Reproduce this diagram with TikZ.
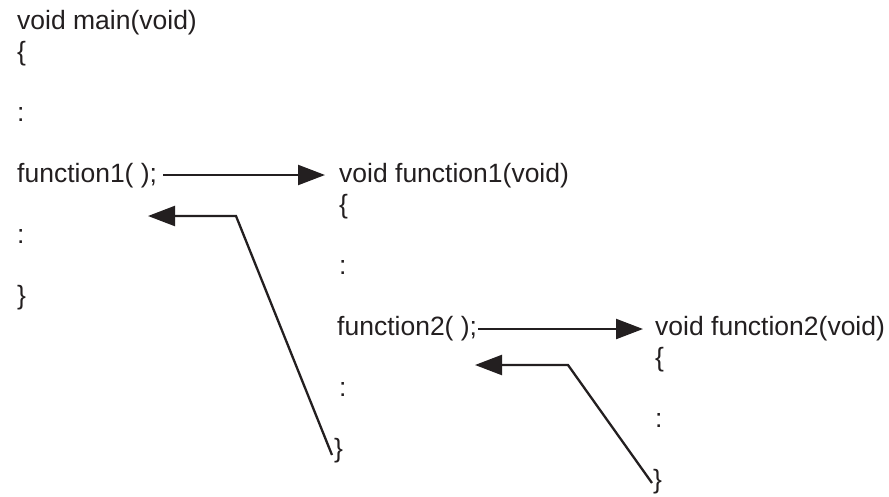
\documentclass[tikz,border=0pt]{standalone}
\usepackage{fontspec}
\setmainfont{Liberation Sans}
\usetikzlibrary{arrows.meta}
\definecolor{ink}{HTML}{231F20}
\tikzset{
  code/.style={anchor=base west, inner sep=0pt, text=ink, font=\fontsize{26.5}{30}\selectfont},
  callarrow/.style={draw=ink, line width=2.3pt, -{Triangle[length=27pt,width=20pt]}},
  retarrow/.style={draw=ink, line width=2.3pt, -{Triangle[length=27pt,width=20pt]}}
}
\begin{document}
\begin{tikzpicture}[x=1pt,y=1pt]
\useasboundingbox (0,0) rectangle (889,-496);
% main
\node[code] (m0) at (17,-29) {void main(void)};
\node[code] (m1) at (17,-60) {\{};
\node[code] (m3) at (17,-121) {:};
\node[code] (m5) at (17,-182) {function1( );};
\node[code] (m7) at (17,-243) {:};
\node[code] (m9) at (17,-304) {\}};
% function1
\node[code] (f0) at (339,-182) {void function1(void)};
\node[code] (f1) at (339,-213) {\{};
\node[code] (f3) at (339,-274) {:};
\node[code] (f5) at (337,-335) {function2( );};
\node[code] (f7) at (339,-396) {:};
\node[code] (f9) at (334,-457) {\}};
% function2
\node[code] (g0) at (655,-335) {void function2(void)};
\node[code] (g1) at (655,-366) {\{};
\node[code] (g3) at (655,-427) {:};
\node[code] (g5) at (653,-488) {\}};
% call arrows
\draw[callarrow] ([xshift=6pt]m5.east |- 0,-175) -- ([xshift=-14pt]f0.west |- 0,-175);
\draw[callarrow] ([xshift=1pt]f5.east |- 0,-329) -- ([xshift=-12pt]g0.west |- 0,-329);
% return arrows
\coordinate (r1a) at (332,-455);
\coordinate (r1b) at (236,-216);
\coordinate (r1c) at (148,-216);
\draw[retarrow] (r1a) -- (r1b) -- (r1c);
\coordinate (r2a) at (652,-483);
\coordinate (r2b) at (568,-365);
\coordinate (r2c) at (475,-365);
\draw[retarrow] (r2a) -- (r2b) -- (r2c);
\end{tikzpicture}
\end{document}
